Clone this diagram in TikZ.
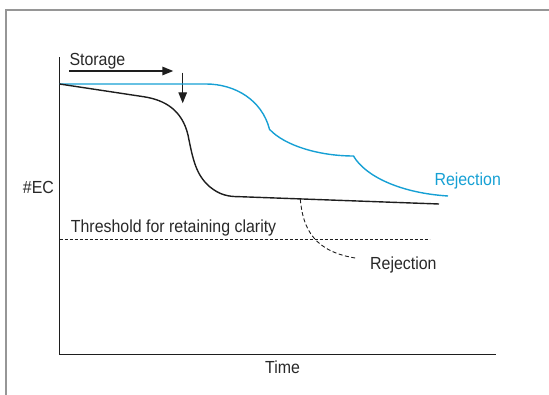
\documentclass[tikz,border=0pt]{standalone}
\usepackage{fontspec}
\setmainfont{Liberation Sans}[FakeStretch=0.91]
\usetikzlibrary{arrows.meta}
\definecolor{curveblue}{RGB}{22, 160, 212}
\definecolor{curveblack}{RGB}{30, 30, 30}
\definecolor{txtdark}{RGB}{40, 40, 40}
\definecolor{framegray}{RGB}{150, 150, 150}

\begin{document}
\begin{tikzpicture}[
  x=1pt, y=-1pt,
  every node/.style={font=\fontsize{17.5pt}{20pt}\selectfont, text=txtdark, inner sep=0pt},
  lbl/.style={anchor=base west},
  axis/.style={curveblack, line width=1.4pt},
  bluecurve/.style={curveblue, line width=1.4pt},
  blackcurve/.style={curveblack, line width=1.4pt},
  thresh/.style={curveblack, line width=0.9pt, dash pattern=on 3pt off 2pt},
  rejdash/.style={curveblack, line width=0.9pt, dash pattern=on 4pt off 2.5pt},
  arr/.style={-{Triangle[length=11pt, width=8.5pt]}, curveblack, line width=1.4pt},
]
\useasboundingbox (0,0) rectangle (549,395);

% Frame
\draw[framegray, line width=1.8pt] (549,10) -- (6,10) -- (6,395);

% Axes
\coordinate (ytop) at (59.5,57.3);
\coordinate (orig) at (59.5,354.3);
\coordinate (xend) at (496,354.3);
\draw[axis] (ytop) -- (orig) -- (xend);
\node[lbl] (ylab) at (22.7,193.3) {\#EC};
\node[lbl] (xlab) at (265,373.3) {Time};

% Storage
\node[lbl] (storage) at (69.3,66) {Storage};
\coordinate (st0) at (69.3,71);
\coordinate (st1) at (173.3,71);
\draw[arr] (st0) -- (st1);
\coordinate (dn0) at (182.7,72.7);
\coordinate (dn1) at (182.7,103.3);
\draw[arr] (dn0) -- (dn1);

% Curves
\draw[bluecurve] (59.5,84) -- (206,84)
  .. controls (235,84) and (262,100) .. (269.5,129.3)
  .. controls (285,146) and (320,156) .. (353.5,156)
  .. controls (365,176) and (400,193) .. (448,196);
\draw[blackcurve] (59.5,84) -- (143.5,96.7)
  .. controls (165,100) and (182,110) .. (188,135)
  .. controls (193,160) and (196,175) .. (210,187)
  .. controls (220,195) and (228,196.7) .. (240,196.7)
  -- (439,204);
\draw[rejdash] (300.3,199.3) .. controls (303,230) and (315,252) .. (357,258.3);

% Threshold
\coordinate (th0) at (59.5,239);
\coordinate (th1) at (429.5,239);
\draw[thresh] (th0) -- (th1);
\node[lbl] (thlab) at (70.7,232.3) {Threshold for retaining clarity};

% Rejection labels
\node[lbl, text=curveblue] (rejblue) at (434.3,186) {Rejection};
\node[lbl] (rejblack) at (370,269.3) {Rejection};

\end{tikzpicture}
\end{document}
